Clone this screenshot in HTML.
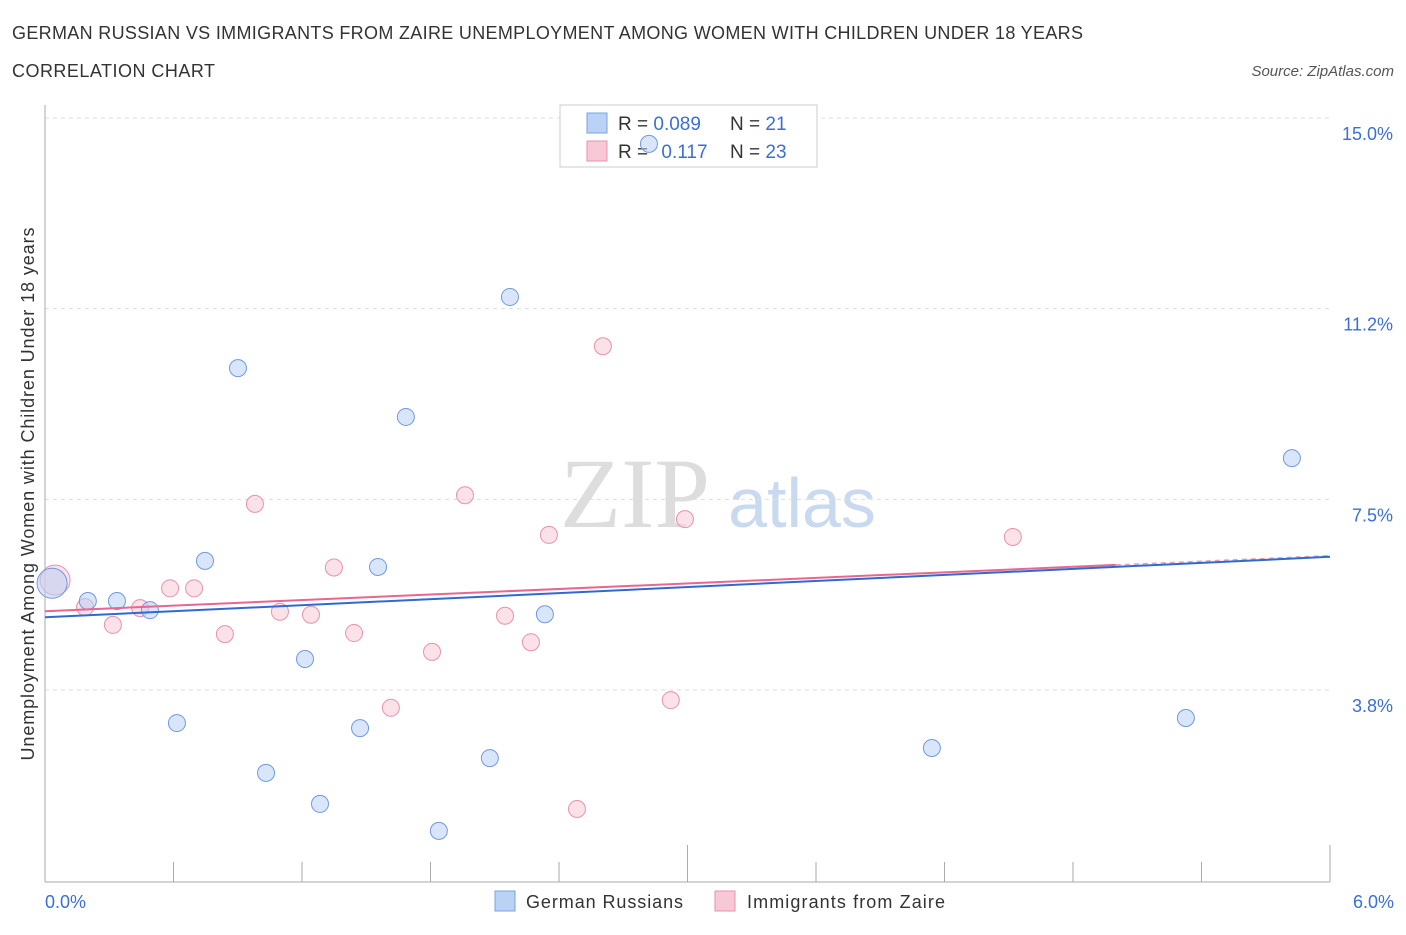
<!DOCTYPE html>
<html><head><meta charset="utf-8"><style>
body{margin:0;background:#fff;font-family:"Liberation Sans",sans-serif;}
svg text{font-family:"Liberation Sans",sans-serif;}
svg text.serif{font-family:"Liberation Serif",serif;}
</style></head><body>
<svg width="1406" height="930" id="chart">
<text x="12" y="39" font-size="18" fill="#333" textLength="1071">GERMAN RUSSIAN VS IMMIGRANTS FROM ZAIRE UNEMPLOYMENT AMONG WOMEN WITH CHILDREN UNDER 18 YEARS</text>
<text x="12" y="77" font-size="18" fill="#333" textLength="203">CORRELATION CHART</text>
<text x="1394" y="76" font-size="15" fill="#555" font-style="italic" text-anchor="end">Source: ZipAtlas.com</text>
<text x="635" y="527" font-size="100" fill="#ddd" class="serif" text-anchor="middle">ZIP</text>
<text x="802" y="527" font-size="70" fill="#c9d9ef" text-anchor="middle">atlas</text>
<g id="grid"></g>
<g>
<rect x="560" y="105" width="257" height="62" fill="#fff" stroke="#ccc"/>
<rect x="587" y="113" width="20" height="20" fill="#b9d2f5" stroke="#7aa3e0"/>
<rect x="587" y="141" width="20" height="20" fill="#f8c8d6" stroke="#e892ad"/>
<text x="618" y="130" font-size="19" fill="#333">R = <tspan fill="#3a6fd8">0.089</tspan></text>
<text x="730" y="130" font-size="19" fill="#333">N = <tspan fill="#3a6fd8"> 21</tspan></text>
<text x="618" y="158" font-size="19" fill="#333">R = <tspan fill="#3a6fd8" dx="8">0.117</tspan></text>
<text x="730" y="158" font-size="19" fill="#333">N = <tspan fill="#3a6fd8">23</tspan></text>
</g>
<g id="marks"></g>
<text transform="translate(34,494) rotate(-90)" font-size="18" fill="#333" text-anchor="middle" textLength="533">Unemployment Among Women with Children Under 18 years</text>
<text x="45" y="908" font-size="18" fill="#3a6fd8">0.0%</text>
<text x="1394" y="908" font-size="18" fill="#3a6fd8" text-anchor="end">6.0%</text>
<g>
<rect x="495" y="891" width="20" height="20" fill="#b9d2f5" stroke="#7aa3e0"/>
<text x="526" y="908" font-size="18" fill="#333" textLength="157">German Russians</text>
<rect x="715" y="891" width="20" height="20" fill="#f8c8d6" stroke="#e892ad"/>
<text x="747" y="908" font-size="18" fill="#333" textLength="198">Immigrants from Zaire</text>
</g>
</svg>
<script>
const yTicks=[3.75,7.5,11.25,15];
const yTickLabels=["3.8%","7.5%","11.2%","15.0%"];
const blueX=[0.033,0.20,0.336,0.49,0.616,0.747,0.901,1.032,1.214,1.284,1.471,1.555,1.685,1.839,2.077,2.171,2.334,2.82,4.141,5.327,5.822];
const blueY=[5.85,5.50,5.50,5.32,3.10,6.29,10.08,2.12,4.36,1.51,3.00,6.17,9.12,0.98,2.41,11.48,5.24,14.49,2.61,3.20,8.31];
const pinkX=[0.047,0.187,0.317,0.444,0.584,0.696,0.84,0.98,1.097,1.242,1.349,1.443,1.615,1.807,1.961,2.148,2.269,2.353,2.605,2.922,2.988,4.519,2.484];
const pinkY=[5.91,5.38,5.03,5.36,5.75,5.75,4.85,7.41,5.29,5.23,6.16,4.87,3.40,4.50,7.58,5.21,4.69,6.80,10.51,3.55,7.11,6.76,1.41];
const blueTrend=[5.18,6.37];
const pinkTrend=[5.30,6.21];
const X0=45,X1=1330,Y0=880.7,PXY=50.85;
const sx=v=>X0+(X1-X0)*v/6;
const sy=v=>Y0-v*PXY;
const NS="http://www.w3.org/2000/svg";
const grid=document.getElementById('grid'),marks=document.getElementById('marks');
function mk(tag,attrs,parent){const e=document.createElementNS(NS,tag);for(const k in attrs)e.setAttribute(k,attrs[k]);parent.appendChild(e);return e;}
yTicks.forEach((t,i)=>{
 const l=mk('line',{x1:45,x2:1330,y1:sy(t),y2:sy(t),stroke:'#ddd','stroke-dasharray':'4,4'},grid);
 
 
 const tx=mk('text',{x:1393,y:sy(t)+22,'font-size':18,fill:'#3a6fd8','text-anchor':'end'},grid);
 tx.textContent=yTickLabels[i];
 
 
});
const ax=mk('line',{x1:45,x2:45,y1:105,y2:882,stroke:'#aaa'},grid);


const bx=mk('line',{x1:45,x2:1330,y1:882,y2:882,stroke:'#aaa'},grid);


for(let i=1;i<=10;i++){const x=45+i*128.5;
 const t=mk('line',{x1:x,x2:x,y1:i%5==0?845:862,y2:882,stroke:'#aaa'},grid);
 
 }
function pts(xs,ys,fill,stroke,name){xs.forEach((v,i)=>{
 const c=mk('circle',{cx:sx(v),cy:sy(ys[i]),r:i==0?15:8.5,fill:fill,'fill-opacity':0.55,stroke:stroke,'stroke-width':1},marks);
 
 });}
pts(pinkX,pinkY,'#f8c8d6','#e892ad','zaire-point');
pts(blueX,blueY,'#b9d2f5','#6f9ae0','german-russian-point');
const pl=mk('line',{x1:sx(0),y1:sy(pinkTrend[0]),x2:sx(5),y2:sy(pinkTrend[1]),stroke:'#e86690','stroke-width':2},marks);


const pd=mk('line',{x1:sx(5),y1:sy(pinkTrend[1]),x2:sx(6),y2:sy(pinkTrend[1]+(pinkTrend[1]-pinkTrend[0])/5),stroke:'#e8a0b5','stroke-width':1.5,'stroke-dasharray':'5,4'},marks);


const bl=mk('line',{x1:sx(0),y1:sy(blueTrend[0]),x2:sx(6),y2:sy(blueTrend[1]),stroke:'#2f6ad3','stroke-width':2},marks);


</script>
</body></html>
